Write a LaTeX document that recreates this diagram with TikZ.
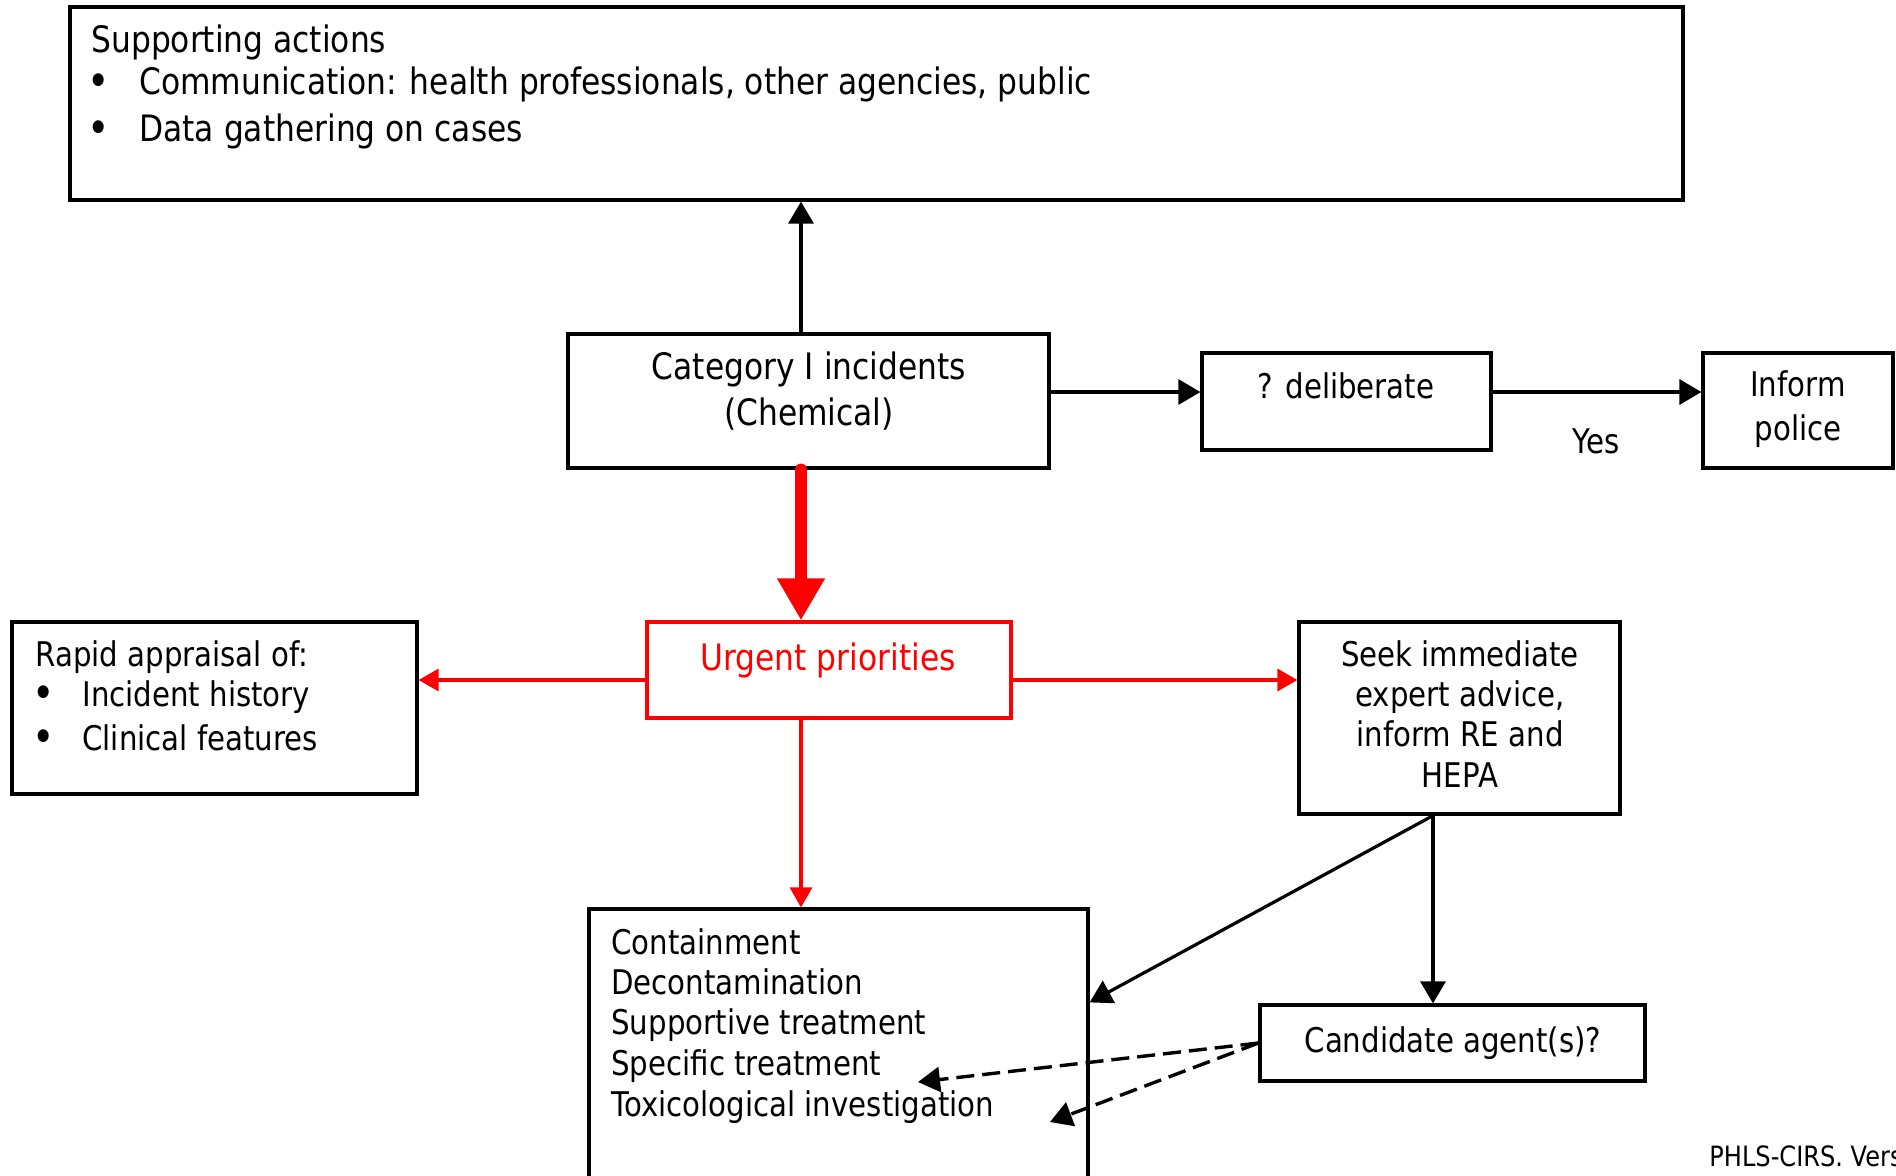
\documentclass[tikz,border=0pt]{standalone}
\usepackage{fontspec}
\setmainfont{DejaVu Sans}[FakeStretch=0.86]
\usetikzlibrary{arrows.meta,fit}
\definecolor{alarm}{RGB}{255,0,0}
\begin{document}
\begin{tikzpicture}[x=0.5pt,y=-0.5pt,
  box/.style={draw=black, line width=1.6pt, inner sep=0pt},
  redbox/.style={draw=alarm, line width=1.6pt, inner sep=0pt},
  big/.style={font=\fontsize{18.2}{23}\selectfont, inner sep=0pt},
  txt/.style={font=\fontsize{17}{20}\selectfont, inner sep=0pt},
  dot/.style={font=\fontsize{22}{24}\selectfont, inner sep=0pt},
  small/.style={font=\fontsize{14}{16}\selectfont, inner sep=0pt},
  arr/.style={line width=1.6pt, -{Triangle[length=11pt,width=12.5pt]}},
  redarr/.style={draw=alarm, line width=1.6pt, -{Triangle[length=10pt,width=11pt]}, fill=alarm},
  bigarr/.style={draw=alarm, line width=6pt, line cap=round, -{Triangle[length=21pt,width=22.5pt]}, fill=alarm},
  dasharr/.style={line width=1.7pt, dash pattern=on 9pt off 4pt, -{Triangle[length=11pt,width=12.5pt]}}]
\useasboundingbox (0,0) rectangle (1896,1175);
\begin{scope}
\clip (0,0) rectangle (1896,1175);

% boxes
\node[box, fit={(70,7) (1683,200)}] (top) {};
\node[box, fit={(568,334) (1049,468)}] (cat) {};
\node[box, fit={(1202,353) (1491,450)}] (delib) {};
\node[box, fit={(1703,353) (1893,468)}] (police) {};
\node[redbox, fit={(647,622) (1011,718)}] (urg) {};
\node[box, fit={(12,622) (417,794)}] (rapid) {};
\node[box, fit={(1299,622) (1620,814)}] (seek) {};
\node[box, fit={(589,909) (1088,1220)}] (bot) {};
\node[box, fit={(1260,1005) (1645,1081)}] (cand) {};

% texts
\node[big, anchor=mid west] (sa0) at (91,47) {Supporting actions};
\node[dot, anchor=mid] (sab1) at (99,91) {•};
\node[big, anchor=mid west] (sa1) at (139,89) {Communication: health professionals, other agencies, public};
\node[dot, anchor=mid] (sab2) at (99,138) {•};
\node[big, anchor=mid west] (sa2) at (139,136) {Data gathering on cases};

\node[big, anchor=mid] (c1) at (809,374) {Category I incidents};
\node[big, anchor=mid] (c2) at (809,420) {(Chemical)};

\node[txt, anchor=mid] (d1) at (1346,393) {? deliberate};
\node[txt, anchor=mid] (p1) at (1798,391) {Inform};
\node[txt, anchor=mid] (p2) at (1798,435) {police};
\node[txt, anchor=mid] (yes) at (1596,448) {Yes};

\node[big, anchor=mid, text=alarm] (u1) at (828,665) {Urgent priorities};

\node[txt, anchor=mid west] (r0) at (35,661) {Rapid appraisal of:};
\node[dot, anchor=mid] (rb1) at (44,703) {•};
\node[txt, anchor=mid west] (r1) at (82,701) {Incident history};
\node[dot, anchor=mid] (rb2) at (44,747) {•};
\node[txt, anchor=mid west] (r2) at (82,745) {Clinical features};

\node[txt, anchor=mid] (s1) at (1460,661) {Seek immediate};
\node[txt, anchor=mid] (s2) at (1460,701) {expert advice,};
\node[txt, anchor=mid] (s3) at (1460,741) {inform RE and};
\node[txt, anchor=mid] (s4) at (1460,782) {HEPA};

\node[txt, anchor=mid west] (b1) at (611,949) {Containment};
\node[txt, anchor=mid west] (b2) at (611,989) {Decontamination};
\node[txt, anchor=mid west] (b3) at (611,1029) {Supportive treatment};
\node[txt, anchor=mid west] (b4) at (611,1070) {Specific treatment};
\node[txt, anchor=mid west] (b5) at (611,1111) {Toxicological investigation};

\node[txt, anchor=mid] (ca) at (1453,1047) {Candidate agent(s)?};

\node[small, anchor=mid west] (foot) at (1709,1161) {PHLS-CIRS. Version 1};

% routing helpers
\coordinate (spine) at (801,0);
\coordinate (row) at (0,392);
\coordinate (redrow) at (0,680);
\coordinate (fork) at (1433,0);
\coordinate (tipA) at (918,1082);
\coordinate (tipB) at (1050,1122);

% connectors
\draw[arr] (cat.north -| spine) -- (top.south -| spine);
\draw[arr] (cat.east |- row) -- (delib.west |- row);
\draw[arr] (delib.east |- row) -- (police.west |- row);
\draw[bigarr] (cat.south -| spine) -- (urg.north -| spine);
\draw[redarr] (urg.west |- redrow) -- (rapid.east |- redrow);
\draw[redarr] (urg.east |- redrow) -- (seek.west |- redrow);
\draw[redarr] (urg.south -| spine) -- (bot.north -| spine);
\draw[arr] (seek.south -| fork) -- ([yshift=-47.5pt]bot.north east);
\draw[arr] (seek.south -| fork) -- (cand.north -| fork);
\draw[dasharr] (cand.west) -- (tipA);
\draw[dasharr] (cand.west) -- (tipB);
\end{scope}
\end{tikzpicture}
\end{document}
